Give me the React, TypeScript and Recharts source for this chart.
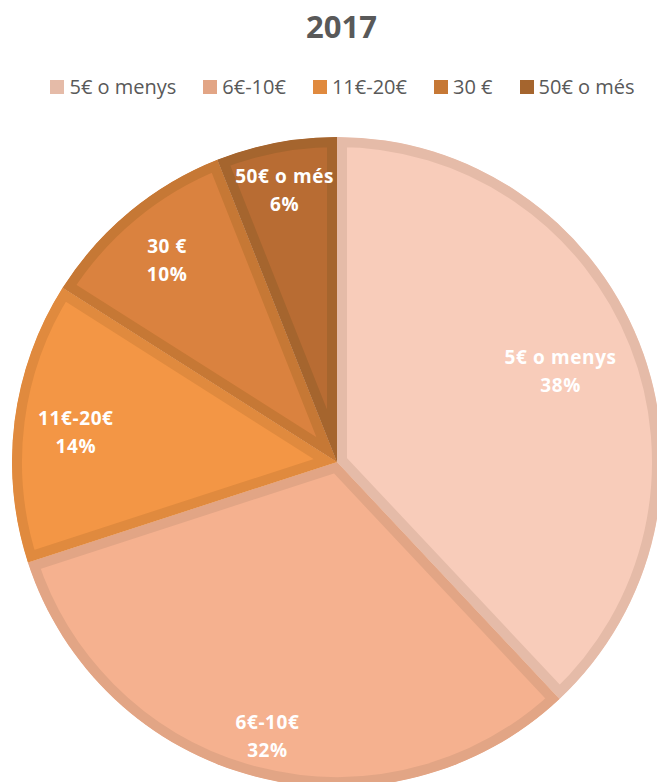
import React from "react";
import { PieChart, Pie, Cell } from "recharts";

const title = "2017";
const categories = ["5€ o menys", "6€-10€", "11€-20€", "30 €", "50€ o més"];
const values = [38, 32, 14, 10, 6];
const percentLabels = ["38%", "32%", "14%", "10%", "6%"];
const fillColors = ["#F8CCBA", "#F5B18F", "#F39645", "#DA823F", "#B86C33"];
const borderColors = ["#E5BBA8", "#E2A585", "#E08A3E", "#C67835", "#A5652E"];
const labelRadiusFactors = [0.74, 0.86, 0.81, 0.82, 0.86];

const data = categories.map((name, i) => ({ name, value: values[i] }));

const RAD = Math.PI / 180;
const FONT = "'Open Sans', 'Noto Sans', sans-serif";

function pt(cx: number, cy: number, r: number, a: number) {
  return [cx + r * Math.cos(-a * RAD), cy + r * Math.sin(-a * RAD)];
}

const InsetSector = (props: any) => {
  const { cx, cy, outerRadius, startAngle, endAngle, fill, stroke } = props;
  const [x0, y0] = pt(cx, cy, outerRadius, startAngle);
  const [x1, y1] = pt(cx, cy, outerRadius, endAngle);
  const large = Math.abs(endAngle - startAngle) > 180 ? 1 : 0;
  const sweep = startAngle > endAngle ? 1 : 0;
  const d = `M ${cx} ${cy} L ${x0} ${y0} A ${outerRadius} ${outerRadius} 0 ${large} ${sweep} ${x1} ${y1} Z`;
  const id = `clip-${Math.round(startAngle * 1000)}-${Math.round(endAngle * 1000)}`.replace(/-/g, "m");
  return (
    <g>
      <defs>
        <clipPath id={id}>
          <path d={d} />
        </clipPath>
      </defs>
      <path d={d} fill={fill} stroke={stroke} strokeWidth={20} strokeLinejoin="miter" clipPath={`url(#${id})`} />
    </g>
  );
};

const renderLabel = (props: any) => {
  const { cx, cy, midAngle, outerRadius, index } = props;
  const r = outerRadius * labelRadiusFactors[index];
  const [x, y] = pt(cx, cy, r, midAngle);
  return (
    <text
      x={x}
      y={y}
      textAnchor="middle"
      fill="#FFFFFF"
      fontFamily={FONT}
      fontWeight={700}
      fontSize={19}
      letterSpacing={0.6}
    >
      <tspan x={x} dy={index === 0 ? -9 : -4}>{categories[index]}</tspan>
      <tspan x={x} dy={28}>{percentLabels[index]}</tspan>
    </text>
  );
};

export default function App() {
  return (
    <div style={{ position: "absolute", left: 0, top: 0, width: 657, height: 782, background: "#fff", overflow: "hidden" }}>
      <div
        style={{
          position: "absolute",
          top: 5,
          left: 0,
          width: 657,
          textAlign: "center",
          fontFamily: FONT,
          fontWeight: 700,
          fontSize: 31,
          color: "#595959",
          paddingLeft: 26,
          boxSizing: "border-box",
        }}
      >
        {title}
      </div>
      <div
        style={{
          position: "absolute",
          top: 73,
          left: 0,
          width: 657,
          display: "flex",
          justifyContent: "center",
          alignItems: "center",
          gap: 27,
          fontFamily: FONT,
          fontSize: 20,
          color: "#595959",
          paddingLeft: 28,
          boxSizing: "border-box",
          whiteSpace: "nowrap",
        }}
      >
        {categories.map((c, i) => (
          <div key={c} style={{ display: "flex", alignItems: "center" }}>
            <span
              style={{
                display: "inline-block",
                width: 14,
                height: 14,
                background: borderColors[i],
                marginRight: 5,
              }}
            />
            <span>{c}</span>
          </div>
        ))}
      </div>
      <div style={{ position: "absolute", left: 0, top: 0 }}>
        <PieChart width={657} height={782} margin={{ top: 0, right: 0, bottom: 0, left: 0 }}>
          <Pie
            data={data}
            dataKey="value"
            nameKey="name"
            cx={337}
            cy={462}
            outerRadius={325}
            startAngle={90}
            endAngle={-270}
            isAnimationActive={false}
            label={renderLabel}
            labelLine={false}
            shape={InsetSector}
            inactiveShape={InsetSector}
            activeShape={InsetSector}
          >
            {data.map((d, i) => (
              <Cell key={d.name} fill={fillColors[i]} stroke={borderColors[i]} />
            ))}
          </Pie>
        </PieChart>
      </div>
    </div>
  );
}
